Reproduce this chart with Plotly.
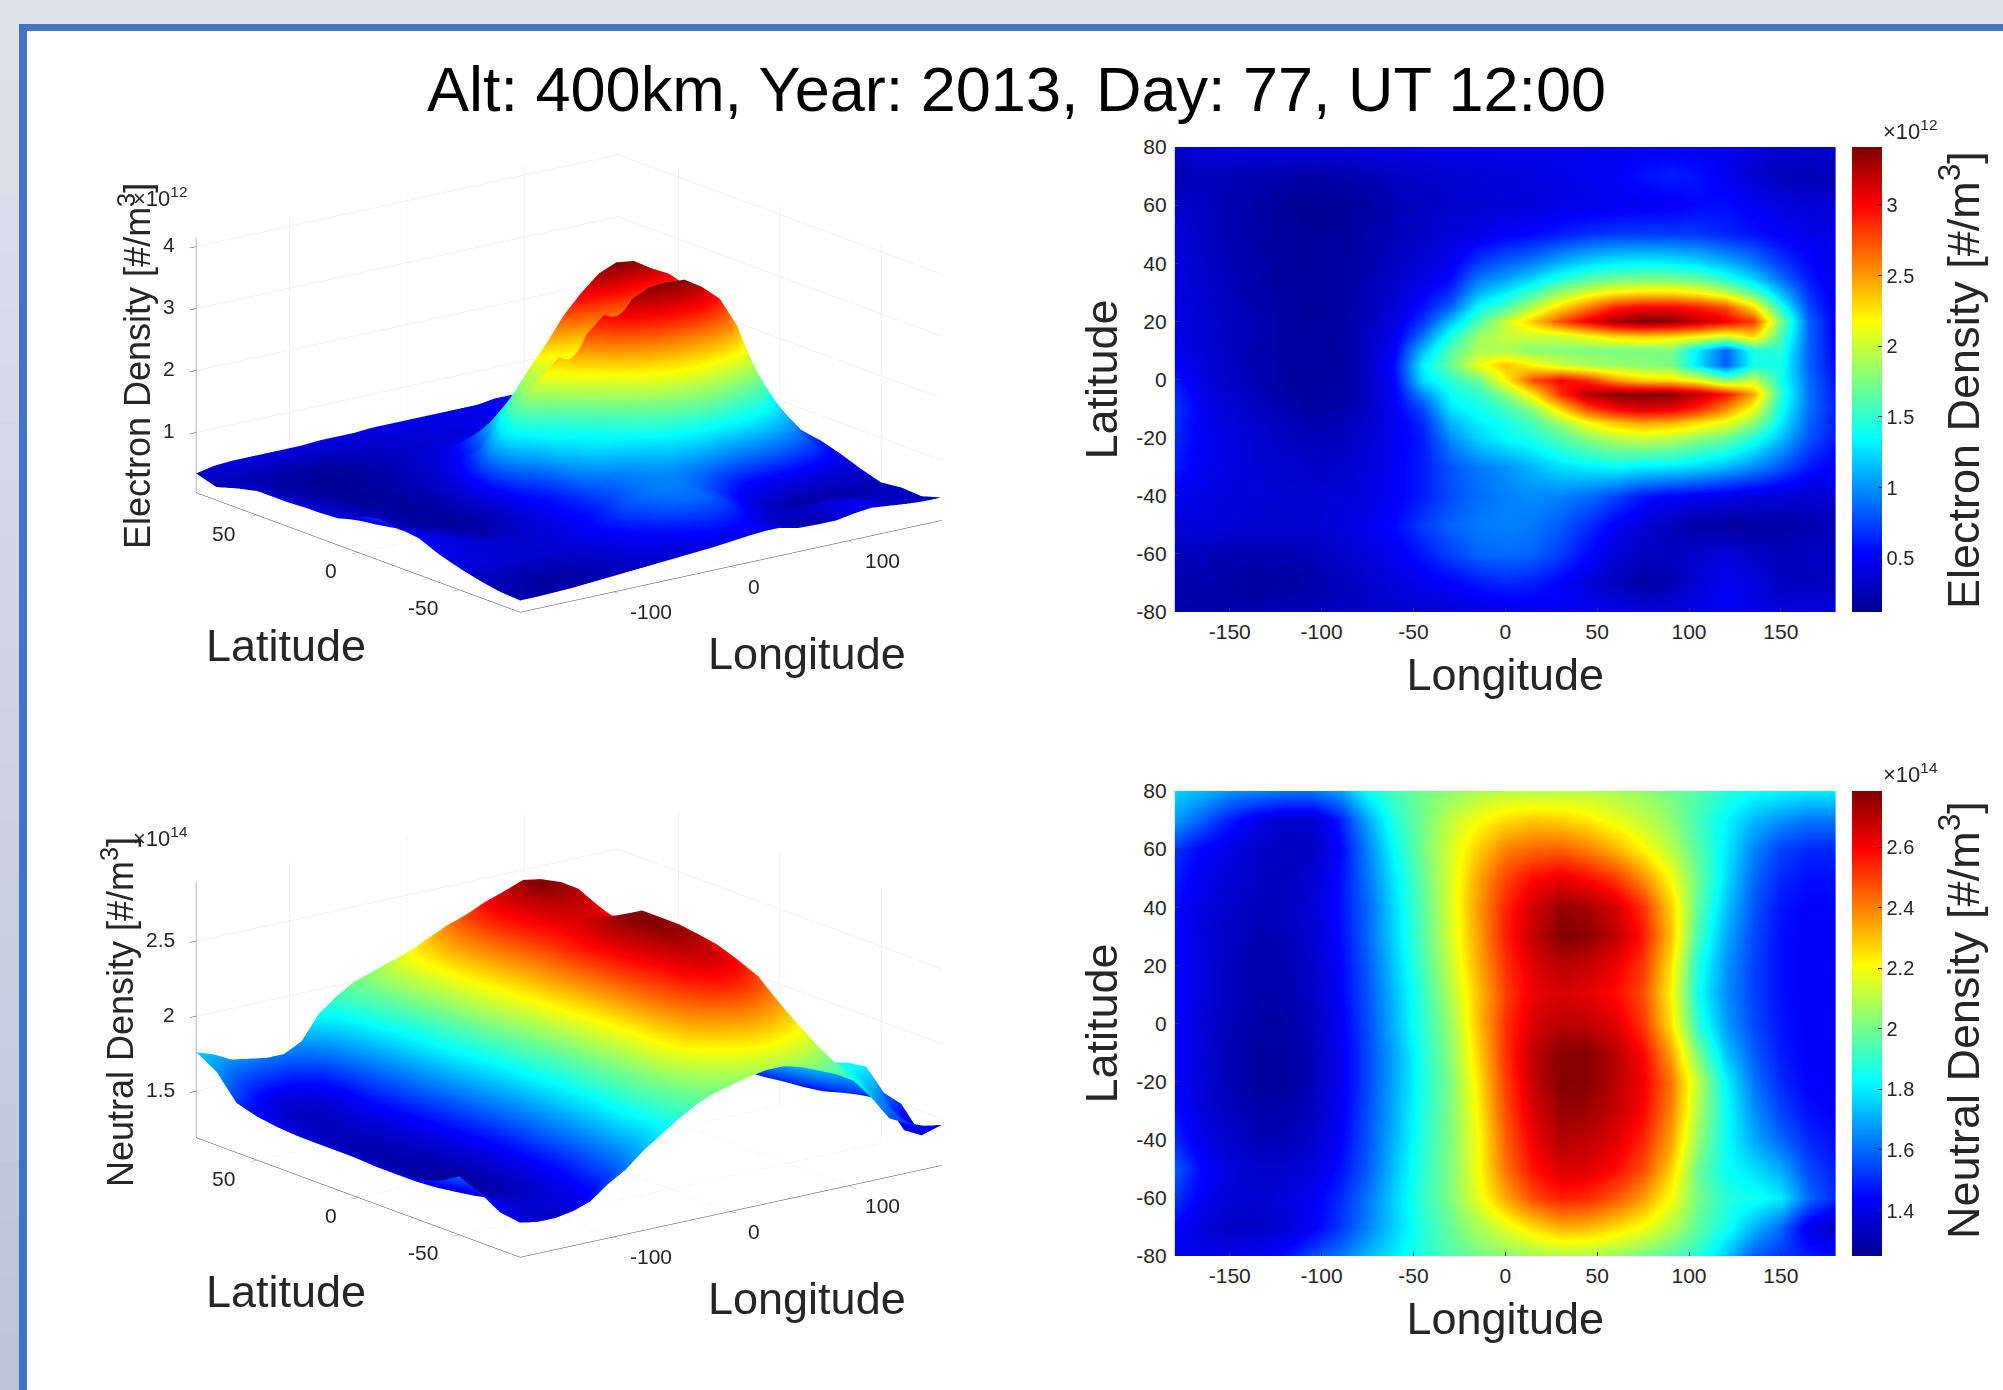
import plotly.graph_objects as go

W, H = 2003, 1390

TITLE = "Alt: 400km, Year: 2013, Day: 77, UT 12:00"
LON = [-180,-165,-150,-135,-120,-105,-90,-75,-60,-45,-30,-15,0,15,30,45,60,75,90,105,120,135,150,165,180]
LAT_E = [-80,-70,-60,-50,-40,-30,-20,-15,-10,-5,0,5,10,15,20,25,30,35,40,50,60,70,80]
LAT_N = [-80,-70,-60,-50,-40,-30,-20,-10,0,10,20,30,40,50,60,70,80]

# Electron density, 1e12 per m^3 (rows south to north)
ELECTRON = [
[.22,.22,.23,.24,.26,.28,.30,.32,.34,.36,.38,.40,.43,.46,.48,.48,.45,.40,.40,.45,.48,.45,.42,.40,.40],
[.24,.23,.20,.17,.18,.22,.28,.34,.40,.46,.52,.60,.65,.62,.52,.40,.28,.22,.25,.38,.50,.42,.30,.28,.30],
[.30,.28,.25,.24,.25,.28,.33,.40,.48,.60,.74,.85,.88,.85,.72,.55,.38,.30,.30,.34,.40,.32,.28,.30,.32],
[.38,.40,.38,.36,.35,.36,.40,.46,.55,.72,.85,.92,.95,.92,.82,.68,.50,.38,.28,.20,.18,.18,.20,.24,.28],
[.48,.43,.40,.38,.36,.36,.38,.42,.50,.62,.78,.88,.95,.98,.95,.88,.75,.60,.52,.48,.44,.40,.38,.36,.38],
[.62,.47,.42,.38,.35,.33,.34,.40,.50,.62,.80,.92,1.0,1.12,1.25,1.30,1.35,1.30,1.28,1.22,1.12,.98,.80,.60,.50],
[.66,.48,.42,.36,.30,.26,.28,.36,.48,.62,.98,1.22,1.35,1.45,1.62,1.80,1.95,2.0,1.95,1.80,1.70,1.45,1.15,.80,.60],
[.68,.48,.40,.34,.28,.24,.26,.34,.48,.66,1.12,1.30,1.42,1.58,1.85,2.15,2.35,2.45,2.40,2.25,2.10,1.80,1.30,.85,.62],
[.70,.48,.38,.30,.25,.20,.22,.32,.50,.76,1.28,1.40,1.55,1.80,2.30,2.75,3.00,3.10,3.05,2.85,2.55,2.10,1.40,.90,.62],
[.66,.45,.35,.28,.22,.18,.20,.30,.52,.98,1.38,1.50,1.80,2.25,2.85,3.25,3.38,3.40,3.38,3.20,2.95,2.45,1.50,.90,.60],
[.60,.42,.32,.25,.20,.17,.19,.30,.55,1.25,1.50,1.70,2.20,2.75,3.0,2.85,2.50,2.32,2.28,2.12,1.78,2.0,1.42,.88,.58],
[.52,.40,.30,.24,.19,.17,.19,.30,.58,1.32,1.70,2.12,2.38,2.20,2.02,1.90,1.85,1.80,1.75,1.25,.82,1.42,1.42,.85,.55],
[.46,.38,.30,.24,.20,.18,.20,.30,.52,1.15,1.62,1.92,1.9,1.8,1.78,1.75,1.75,1.75,1.75,1.28,.85,1.45,1.48,.85,.52],
[.45,.38,.30,.25,.20,.18,.20,.30,.46,.90,1.45,1.85,2.0,2.0,2.02,2.15,2.30,2.35,2.30,2.2,2.05,2.3,1.60,.85,.50],
[.44,.37,.30,.25,.20,.17,.19,.28,.42,.70,1.15,1.60,2.0,2.35,2.75,3.05,3.3,3.42,3.38,3.2,3.05,2.8,1.75,.85,.50],
[.44,.36,.29,.24,.19,.16,.18,.27,.38,.58,.85,1.35,1.60,1.95,2.3,2.6,2.9,3.0,3.0,2.9,2.75,2.25,1.45,.75,.48],
[.43,.35,.28,.23,.18,.16,.18,.26,.34,.50,.68,1.10,1.30,1.55,1.85,2.05,2.2,2.25,2.25,2.15,1.95,1.60,1.12,.68,.46],
[.42,.34,.27,.22,.18,.16,.18,.25,.32,.42,.56,.90,1.05,1.22,1.45,1.6,1.7,1.72,1.72,1.65,1.45,1.2,.88,.6,.45],
[.42,.33,.26,.21,.17,.16,.18,.24,.30,.38,.48,.72,.85,.95,1.12,1.25,1.32,1.35,1.32,1.25,1.12,.95,.72,.55,.44],
[.42,.3,.24,.2,.17,.16,.18,.22,.27,.32,.38,.44,.5,.55,.62,.68,.72,.72,.72,.7,.64,.58,.5,.45,.42],
[.34,.3,.25,.2,.17,.14,.15,.2,.26,.3,.34,.36,.38,.4,.44,.45,.46,.48,.5,.55,.56,.5,.42,.38,.37],
[.24,.28,.26,.24,.22,.2,.22,.26,.3,.33,.36,.38,.4,.42,.44,.46,.5,.58,.62,.58,.48,.36,.28,.25,.28],
[.34,.40,.42,.42,.42,.42,.42,.44,.44,.44,.46,.46,.46,.46,.46,.46,.46,.5,.5,.5,.46,.4,.36,.35,.38],
]

# Neutral density, 1e14 per m^3 (rows south to north)
NEUTRAL = [
[1.42,1.40,1.40,1.42,1.46,1.55,1.62,1.72,1.80,1.88,1.95,2.0,2.03,2.06,2.08,2.08,2.05,2.0,1.95,1.88,1.74,1.58,1.52,1.48,1.46],
[1.44,1.38,1.34,1.34,1.37,1.43,1.52,1.64,1.76,1.88,1.98,2.08,2.17,2.26,2.33,2.32,2.26,2.2,2.1,1.96,1.86,1.72,1.6,1.4,1.34],
[1.52,1.42,1.37,1.36,1.38,1.42,1.5,1.62,1.76,1.9,2.02,2.17,2.34,2.48,2.55,2.53,2.46,2.36,2.2,2.0,1.88,1.85,1.8,1.6,1.5],
[1.58,1.44,1.38,1.35,1.35,1.38,1.46,1.58,1.74,1.89,2.02,2.2,2.42,2.57,2.65,2.64,2.58,2.48,2.28,1.98,1.84,1.78,1.7,1.55,1.48],
[1.5,1.4,1.35,1.32,1.32,1.35,1.43,1.57,1.72,1.88,2.02,2.2,2.45,2.61,2.71,2.69,2.64,2.54,2.35,2.04,1.84,1.7,1.6,1.5,1.46],
[1.46,1.38,1.33,1.3,1.3,1.33,1.42,1.56,1.71,1.87,2.02,2.22,2.48,2.65,2.75,2.74,2.68,2.59,2.4,2.08,1.84,1.66,1.54,1.46,1.44],
[1.45,1.37,1.31,1.28,1.28,1.32,1.41,1.55,1.7,1.86,2.02,2.24,2.5,2.68,2.78,2.77,2.7,2.61,2.42,2.1,1.82,1.62,1.5,1.44,1.43],
[1.45,1.37,1.31,1.28,1.28,1.32,1.41,1.55,1.7,1.87,2.04,2.27,2.52,2.69,2.77,2.77,2.7,2.59,2.35,2.0,1.74,1.58,1.48,1.43,1.43],
[1.45,1.37,1.32,1.29,1.29,1.33,1.42,1.56,1.72,1.89,2.06,2.3,2.52,2.65,2.7,2.69,2.64,2.51,2.25,1.88,1.68,1.55,1.47,1.43,1.43],
[1.45,1.38,1.33,1.3,1.3,1.34,1.43,1.57,1.73,1.9,2.1,2.3,2.5,2.62,2.65,2.63,2.58,2.48,2.22,1.84,1.66,1.54,1.46,1.43,1.43],
[1.45,1.38,1.33,1.3,1.31,1.35,1.44,1.58,1.75,1.93,2.13,2.33,2.52,2.64,2.7,2.68,2.62,2.51,2.25,1.86,1.67,1.54,1.46,1.43,1.43],
[1.45,1.38,1.34,1.31,1.32,1.36,1.45,1.6,1.77,1.95,2.15,2.35,2.55,2.68,2.78,2.76,2.69,2.56,2.3,1.92,1.7,1.55,1.46,1.43,1.43],
[1.46,1.39,1.35,1.33,1.33,1.37,1.46,1.6,1.78,1.96,2.16,2.36,2.54,2.66,2.75,2.73,2.66,2.52,2.28,1.96,1.74,1.57,1.47,1.44,1.44],
[1.48,1.41,1.37,1.34,1.33,1.36,1.46,1.62,1.8,1.98,2.16,2.34,2.49,2.58,2.62,2.58,2.51,2.38,2.2,1.98,1.78,1.6,1.5,1.46,1.46],
[1.52,1.44,1.39,1.35,1.33,1.34,1.44,1.64,1.84,2.0,2.15,2.28,2.4,2.44,2.45,2.4,2.32,2.22,2.1,1.95,1.8,1.64,1.54,1.5,1.5],
[1.68,1.58,1.48,1.4,1.36,1.36,1.48,1.7,1.88,2.0,2.12,2.2,2.26,2.29,2.28,2.24,2.18,2.12,2.04,1.92,1.82,1.72,1.66,1.62,1.62],
[1.76,1.72,1.66,1.64,1.62,1.62,1.68,1.84,1.93,2.0,2.04,2.08,2.1,2.1,2.1,2.1,2.08,2.05,2.0,1.95,1.88,1.84,1.82,1.8,1.8],
]

E_RANGE = [0.12, 3.41]
N_RANGE = [1.25, 2.785]
E_ZRANGE = [0.03, 4.145]
N_ZRANGE = [1.19, 2.89]
E_ZTICKS = [1, 2, 3, 4]
N_ZTICKS = [1.5, 2, 2.5]
E_CBTICKS = [0.5, 1, 1.5, 2, 2.5, 3]
N_CBTICKS = [1.4, 1.6, 1.8, 2, 2.2, 2.4, 2.6]
LON_3D_TICKS = [-100, 0, 100]
LAT_3D_TICKS = [-50, 0, 50]
LON_TICKS = [-150, -100, -50, 0, 50, 100, 150]
LAT_TICKS = [-80, -60, -40, -20, 0, 20, 40, 60, 80]

JET = [[0, "rgb(0,0,143)"], [0.125, "rgb(0,0,255)"], [0.375, "rgb(0,255,255)"],
       [0.625, "rgb(255,255,0)"], [0.875, "rgb(255,0,0)"], [1, "rgb(128,0,0)"]]
FONT = "Liberation Sans, Arial, sans-serif"
INK = "#262626"
GRID = "#e6e6e6"
TICK_PX, TITLE_PX, Z_TITLE_PX, CB_TITLE_PX = 21, 45, 36, 45
EYE_DIR = (-0.584, -0.760, 0.2835)
EYE_K = 2.0
ASPECT = 1.773
SCENE_W, SCENE_H = 800, 600
SCENE_CENTERS = [(568.5, 379), (568.5, 1024)]


def fx(p): return p / W
def fy(p): return 1 - p / H
def fmt(v): return f"{v:g}"


def rect(x0, y0, x1, y1, color):
    return dict(type="rect", xref="paper", yref="paper", layer="below",
                x0=fx(x0), x1=fx(x1), y0=fy(y1), y1=fy(y0),
                fillcolor=color, line=dict(width=0))


def note(x, y, text, size, **kw):
    return dict(xref="paper", yref="paper", x=fx(x), y=fy(y), text=text, showarrow=False,
                xanchor="center", yanchor="middle",
                font=dict(family=FONT, size=size, color=kw.pop("color", INK)), **kw)


def scene_note(x, y, z, text, xanchor, xshift, yshift):
    return dict(x=x, y=y, z=z, text=text, showarrow=False, xanchor=xanchor, yanchor="middle",
                xshift=xshift, yshift=yshift, font=dict(family=FONT, size=TICK_PX, color=INK))


def scene_layout(center, zrange, zticks):
    cx, cy = center
    axis = dict(showbackground=False, showticklabels=False, title=dict(text=""), showspikes=False,
                zeroline=False, showgrid=True, gridcolor=GRID, gridwidth=1, showline=True,
                linecolor="#404040", linewidth=1, ticks="outside", ticklen=8, tickcolor="#404040",
                tickwidth=1, tickmode="array")
    notes = [scene_note(-180, v, zrange[0], fmt(v), "right", -19, -18) for v in LAT_3D_TICKS]
    notes += [scene_note(v, -80, zrange[0], fmt(v), "left", 15, -20) for v in LON_3D_TICKS]
    notes += [scene_note(-180, 80, v, fmt(v), "right", -19, 2) for v in zticks]
    return dict(
        domain=dict(x=[fx(cx - SCENE_W / 2), fx(cx + SCENE_W / 2)],
                    y=[fy(cy + SCENE_H / 2), fy(cy - SCENE_H / 2)]),
        bgcolor="rgba(0,0,0,0)",
        xaxis=dict(axis, range=[-180, 180], tickvals=LON_3D_TICKS),
        yaxis=dict(axis, range=[-80, 80], tickvals=LAT_3D_TICKS),
        zaxis=dict(axis, range=zrange, tickvals=zticks),
        aspectmode="manual", aspectratio=dict(x=ASPECT, y=ASPECT, z=0.5 * ASPECT),
        camera=dict(projection=dict(type="orthographic"),
                    eye=dict(x=EYE_DIR[0] * EYE_K, y=EYE_DIR[1] * EYE_K, z=EYE_DIR[2] * EYE_K),
                    up=dict(x=0, y=0, z=1), center=dict(x=0, y=0, z=0)),
        annotations=notes,
    )


def surface(z, lat, crange, scene):
    return go.Surface(x=LON, y=lat, z=z, scene=scene, colorscale=JET, cmin=crange[0], cmax=crange[1],
                      showscale=False, hoverinfo="skip",
                      lighting=dict(ambient=1, diffuse=0, specular=0, roughness=1, fresnel=0))


def heatmap(z, lat, crange, xa, ya, cb_top, cb_bottom, ticks):
    return go.Heatmap(x=LON, y=lat, z=z, xaxis=xa, yaxis=ya, colorscale=JET, zmin=crange[0], zmax=crange[1],
                      zsmooth="best", hoverinfo="skip",
                      colorbar=dict(x=fx(1852), xanchor="left", xpad=0, thickness=29.6, thicknessmode="pixels",
                                    y=fy((cb_top + cb_bottom) / 2), yanchor="middle", ypad=0,
                                    len=(cb_bottom - cb_top) / H, lenmode="fraction", outlinewidth=0,
                                    tickmode="array", tickvals=ticks, ticktext=[fmt(t) for t in ticks],
                                    ticks="inside", ticklen=4, tickcolor="#333333",
                                    tickfont=dict(family=FONT, size=20, color=INK)))


fig = go.Figure([
    surface(ELECTRON, LAT_E, E_RANGE, "scene"),
    heatmap(ELECTRON, LAT_E, E_RANGE, "x", "y", 147, 612, E_CBTICKS),
    surface(NEUTRAL, LAT_N, N_RANGE, "scene2"),
    heatmap(NEUTRAL, LAT_N, N_RANGE, "x2", "y2", 791, 1256, N_CBTICKS),
])

# Slide background: soft vertical gradient on the left strip, blue frame, white page
BANDS = 24
strip = []
for i in range(BANDS):
    t = i / (BANDS - 1)
    c = (round(221 - 32 * t), round(225 - 28 * t), round(234 - 20 * t))
    y0 = 24 + (H - 24) * i / BANDS
    strip.append(rect(0, y0, 19, y0 + (H - 24) / BANDS + 1, f"rgb{c}"))
shapes = strip + [rect(19, 24, W, H, "#4472c4"), rect(27, 31, W, H, "#ffffff")]


def heat_x(top, bottom):
    return dict(domain=[fx(1174.6), fx(1836)], range=[-180, 180], tickmode="array", tickvals=LON_TICKS,
                ticktext=[fmt(v) for v in LON_TICKS], ticklabelstandoff=5,
                ticks="inside", ticklen=4, tickcolor="#333333", showgrid=False, zeroline=False,
                tickfont=dict(family=FONT, size=TICK_PX, color=INK),
                title=dict(text="Longitude", font=dict(family=FONT, size=TITLE_PX, color=INK), standoff=16))


def heat_y(top, bottom):
    return dict(domain=[fy(bottom), fy(top)], range=[-80, 80], tickmode="array", tickvals=LAT_TICKS,
                ticktext=[fmt(v) for v in LAT_TICKS], ticklabelstandoff=7,
                ticks="inside", ticklen=4, tickcolor="#333333", showgrid=False, zeroline=False,
                tickfont=dict(family=FONT, size=TICK_PX, color=INK),
                title=dict(text="Latitude", font=dict(family=FONT, size=TITLE_PX, color=INK), standoff=4))


DENSITY_E = "Electron Density [#/m<sup>3</sup>]"
DENSITY_N = "Neutral Density [#/m<sup>3</sup>]"
X1E12 = "×10<sup>12</sup>"
X1E14 = "×10<sup>14</sup>"

annotations = [
    note(1016, 89, TITLE, 63, color="#000000"),
    # 3D panel labels
    note(286, 646, "Latitude", TITLE_PX), note(807, 653, "Longitude", TITLE_PX),
    note(286, 1291, "Latitude", TITLE_PX), note(807, 1298, "Longitude", TITLE_PX),
    note(135, 366, DENSITY_E, Z_TITLE_PX, textangle=-90),
    note(118, 1012, DENSITY_N, Z_TITLE_PX, textangle=-90),
    note(160, 197, X1E12, 22), note(160, 837, X1E14, 22),
    # Colour bar labels
    note(1960, 380, DENSITY_E, CB_TITLE_PX, textangle=-90),
    note(1960, 1020, DENSITY_N, CB_TITLE_PX, textangle=-90),
    note(1910, 130, X1E12, 22), note(1910, 773, X1E14, 22),
]

fig.update_layout(
    width=W, height=H, autosize=False,
    margin=dict(l=0, r=0, t=0, b=0, pad=0, autoexpand=False),
    paper_bgcolor="rgb(221,225,234)", plot_bgcolor="rgba(0,0,0,0)",
    showlegend=False, font=dict(family=FONT, color=INK),
    shapes=shapes, annotations=annotations,
    scene=scene_layout(SCENE_CENTERS[0], E_ZRANGE, E_ZTICKS),
    scene2=scene_layout(SCENE_CENTERS[1], N_ZRANGE, N_ZTICKS),
    xaxis=dict(heat_x(147, 612), anchor="y"), yaxis=dict(heat_y(147, 612), anchor="x"),
    xaxis2=dict(heat_x(791, 1256), anchor="y2"), yaxis2=dict(heat_y(791, 1256), anchor="x2"),
)

fig.write_html("out.html", config=dict(displayModeBar=False),
               post_script="document.body.style.margin='0';document.body.style.overflow='hidden';")
